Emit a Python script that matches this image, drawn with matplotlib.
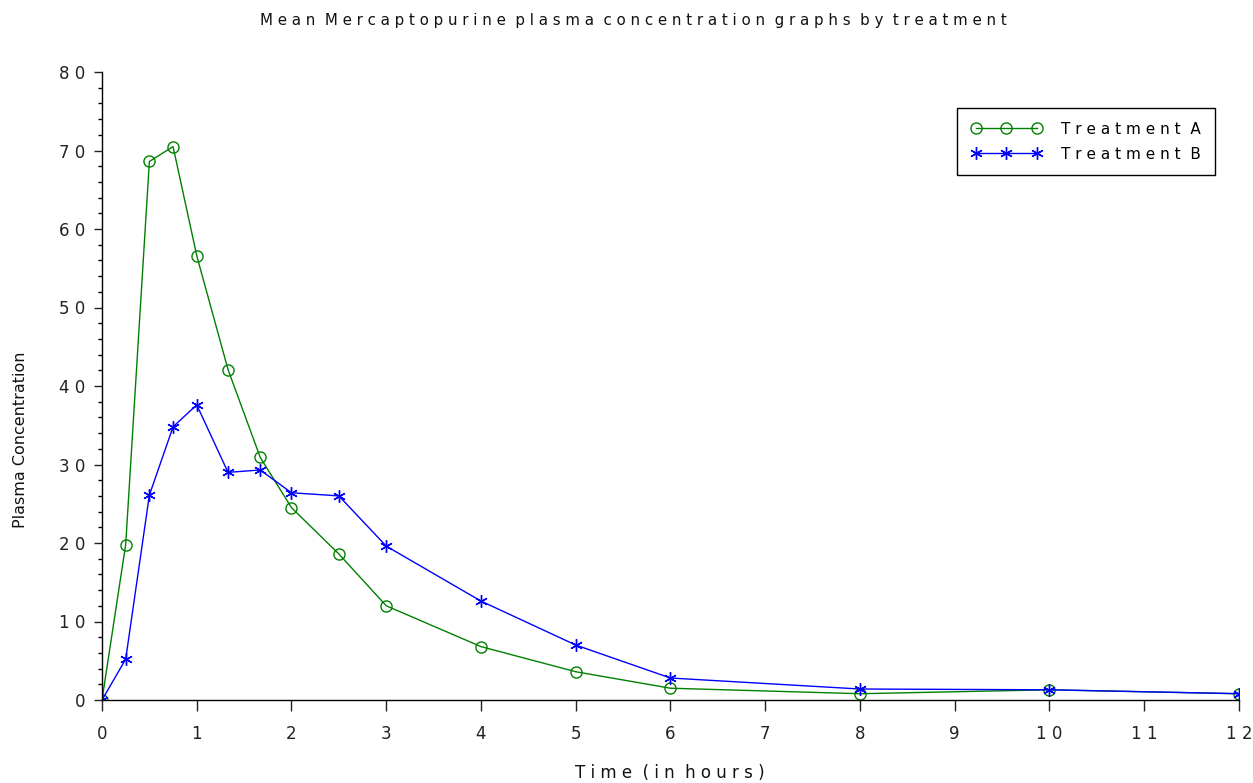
import matplotlib
matplotlib.use("Agg")
import matplotlib.pyplot as plt
from matplotlib.ticker import MultipleLocator

time_h = [0, 0.25, 0.5, 0.75, 1, 1.33, 1.67, 2, 2.5, 3, 4, 5, 6, 8, 10, 12]
treat_a = [0, 19.8, 68.6, 70.5, 56.6, 42.1, 30.9, 24.5, 18.6, 12.0, 6.8, 3.6, 1.5, 0.8, 1.3, 0.8]
treat_b = [0, 5.2, 26.1, 34.8, 37.6, 29.0, 29.3, 26.4, 26.0, 19.6, 12.6, 7.0, 2.8, 1.4, 1.3, 0.8]
x_ticks = list(range(0, 13))
y_ticks = list(range(0, 81, 10))

def spaced(s):
    return " ".join(s).replace("   ", "  ")

plt.rcParams['font.family'] = ["DejaVu Sans"]

fig = plt.figure(figsize=(12.53, 7.83), dpi=100)
ax = fig.add_axes([102/1253, 1-700/783, (1239-102)/1253, (700-72)/783])

ax.plot(time_h, treat_a, color="#008000", lw=1.0, marker="o", mfc="none",
        mec="#008000", ms=8, mew=1.0, label=spaced("Treatment A"))
ax.plot(time_h, treat_b, color="#0000ff", lw=1.0, marker=(6, 2, 0),
        ms=9, mew=1.0, label=spaced("Treatment B"))

ax.set_xlim(0, 12)
ax.set_ylim(0, 80)
ax.set_xticks(x_ticks)
ax.set_yticks(y_ticks)
ax.yaxis.set_minor_locator(MultipleLocator(2))
ax.set_xticklabels([spaced(str(t)) for t in x_ticks])
ax.set_yticklabels([spaced(str(t)) for t in y_ticks])
for s in ["top", "right"]:
    ax.spines[s].set_visible(False)
ax.tick_params(axis="x", direction="out", length=8, width=1, labelsize=12, pad=10, colors="#222222")
ax.tick_params(axis="y", which="major", direction="out", length=6, width=1, labelsize=12, pad=6, colors="#222222")
ax.tick_params(axis="y", which="minor", direction="out", length=3, width=1)
ax.spines["left"].set_linewidth(1)
ax.spines["bottom"].set_linewidth(1)

fig.text(633/1253, 1-20/783, spaced("Mean Mercaptopurine plasma concentration graphs by treatment"),
         ha="center", va="center", fontsize=10.8, color="#111111")
fig.text(670/1253, 1-773/783, spaced("Time (in hours)"), ha="center", va="center",
         fontsize=12, color="#111111")
fig.text(21/1253, 1-440/783, "Plasma Concentration", rotation=90, ha="center", va="center",
         fontsize=11.5, color="#111111")

leg = ax.legend(loc="upper right", bbox_to_anchor=(1215/1253, 1-108/783), bbox_transform=fig.transFigure,
                borderaxespad=0, fancybox=False, edgecolor="black", framealpha=1, fontsize=11,
                numpoints=3, handlelength=4.6, handletextpad=1.3, borderpad=0.9, labelspacing=0.65)
leg.get_frame().set_linewidth(1.0)

fig.savefig("out.png", dpi=100)
